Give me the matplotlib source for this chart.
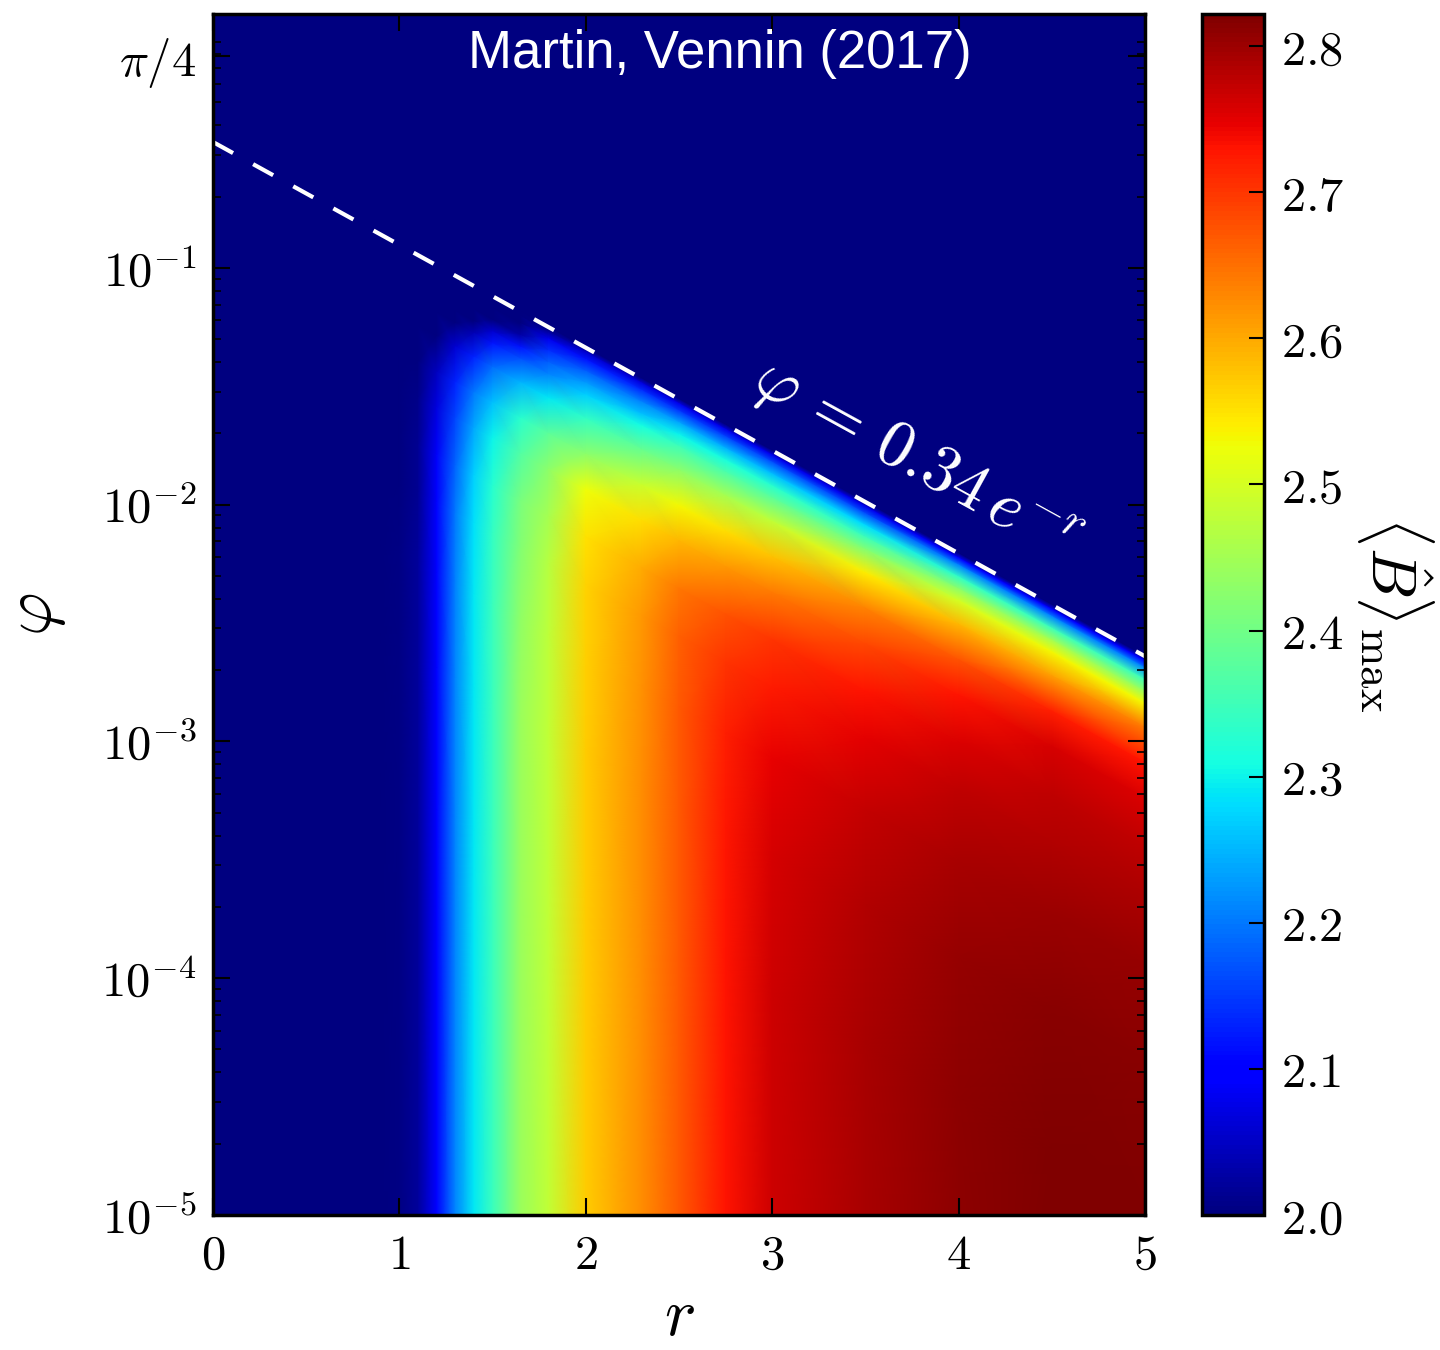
import numpy as np
import matplotlib
matplotlib.use("Agg")
import matplotlib.pyplot as plt
from matplotlib.ticker import LogLocator, NullFormatter

plt.rcParams['mathtext.fontset'] = 'cm'
plt.rcParams['font.family'] = 'serif'
plt.rcParams['font.serif'] = ['DejaVu Serif']

# dashed line phi = 0.34 e^{-r}, end points
dash_r = [0.0, 5.0]
dash_phi = [0.34, 0.00229]

# squeezing parameter r (columns of the table)
r_nodes = [0.0, 0.9, 1.0, 1.1, 1.2, 1.3, 1.4, 1.5, 1.65, 1.8,
           2.0, 2.3, 2.5, 2.75, 3.0, 3.5, 4.0, 4.5, 5.0]
# depth below the dashed line, in decades of phi (rows of the table)
depth = [-3, 0, 0.02, 0.05, 0.1, 0.15, 0.2, 0.3, 0.45, 0.6, 0.8, 1.0, 1.3, 1.7, 2.3, 5.0]

# <B>_max, one list per r column (values < 2 show as 2)
bell_cols = [
    [1.90, 1.95, 1.96, 1.96, 1.97, 1.97, 1.97, 1.98, 1.98, 1.98, 1.98, 1.98, 1.98, 1.98, 1.98, 1.98],
    [1.90, 1.95, 1.96, 1.96, 1.97, 1.97, 1.97, 1.98, 1.98, 1.99, 1.99, 1.99, 1.995, 1.995, 1.995, 1.995],
    [1.90, 1.95, 1.96, 1.96, 1.97, 1.97, 1.97, 1.98, 1.99, 1.995, 2.0, 2.003, 2.005, 2.005, 2.005, 2.005],
    [1.90, 1.95, 1.96, 1.96, 1.97, 1.97, 1.98, 1.99, 2.0, 2.007, 2.013, 2.016, 2.02, 2.02, 2.02, 2.02],
    [1.90, 1.90, 1.90, 1.92, 1.94, 1.95, 1.97, 1.99, 2.045, 2.07, 2.087, 2.094, 2.10, 2.10, 2.10, 2.10],
    [1.90, 1.90, 1.90, 1.92, 1.94, 1.96, 1.98, 2.06, 2.13, 2.16, 2.185, 2.20, 2.207, 2.21, 2.21, 2.21],
    [1.90, 1.90, 1.90, 1.93, 1.95, 1.98, 2.04, 2.13, 2.20, 2.24, 2.27, 2.285, 2.29, 2.29, 2.29, 2.29],
    [1.90, 1.90, 1.92, 1.94, 1.97, 2.06, 2.12, 2.19, 2.26, 2.30, 2.325, 2.34, 2.345, 2.345, 2.345, 2.345],
    [1.90, 1.90, 1.93, 1.96, 2.03, 2.12, 2.17, 2.25, 2.33, 2.37, 2.41, 2.42, 2.433, 2.44, 2.44, 2.44],
    [1.90, 1.97, 2.02, 2.08, 2.14, 2.18, 2.21, 2.29, 2.38, 2.43, 2.455, 2.47, 2.477, 2.48, 2.48, 2.48],
    [1.90, 2.0, 2.06, 2.12, 2.18, 2.23, 2.27, 2.34, 2.43, 2.525, 2.55, 2.562, 2.568, 2.57, 2.57, 2.57],
    [1.90, 2.0, 2.07, 2.14, 2.21, 2.26, 2.31, 2.39, 2.49, 2.555, 2.60, 2.615, 2.622, 2.625, 2.625, 2.625],
    [1.90, 2.0, 2.08, 2.15, 2.24, 2.30, 2.35, 2.43, 2.53, 2.59, 2.645, 2.662, 2.668, 2.67, 2.67, 2.67],
    [1.90, 2.0, 2.08, 2.16, 2.25, 2.315, 2.365, 2.455, 2.555, 2.615, 2.675, 2.70, 2.72, 2.728, 2.73, 2.73],
    [1.90, 2.0, 2.08, 2.17, 2.26, 2.33, 2.38, 2.48, 2.58, 2.64, 2.70, 2.725, 2.748, 2.76, 2.765, 2.765],
    [1.90, 2.0, 2.08, 2.17, 2.28, 2.35, 2.42, 2.54, 2.635, 2.685, 2.73, 2.75, 2.772, 2.785, 2.79, 2.79],
    [1.90, 2.0, 2.10, 2.21, 2.34, 2.43, 2.50, 2.59, 2.675, 2.73, 2.757, 2.775, 2.793, 2.803, 2.81, 2.81],
    [1.90, 2.0, 2.10, 2.21, 2.35, 2.45, 2.53, 2.61, 2.72, 2.76, 2.777, 2.786, 2.80, 2.813, 2.82, 2.82],
    [1.90, 2.0, 2.10, 2.21, 2.35, 2.44, 2.53, 2.64, 2.73, 2.755, 2.775, 2.788, 2.803, 2.815, 2.822, 2.822],
]

x_ticks = [0, 1, 2, 3, 4, 5]
x_labels = [r'$0$', r'$1$', r'$2$', r'$3$', r'$4$', r'$5$']
y_ticks = [1e-5, 1e-4, 1e-3, 1e-2, 1e-1, np.pi / 4]
y_labels = [r'$10^{-5}$', r'$10^{-4}$', r'$10^{-3}$', r'$10^{-2}$', r'$10^{-1}$', r'$\pi/4$']
cb_ticks = [2.0, 2.1, 2.2, 2.3, 2.4, 2.5, 2.6, 2.7, 2.8]
cb_labels = [r'$%.1f$' % t for t in cb_ticks]

fig = plt.figure(figsize=(14.4, 13.5), dpi=100)
ax = fig.add_axes([0.1479, 0.1, 0.6472, 0.8896])
cax = fig.add_axes([0.8347, 0.1, 0.0431, 0.8896])

# mesh rows follow the dashed line, so the sharp edge sits on it
log_line = np.interp(r_nodes, dash_r, np.log10(dash_phi))
R, D = np.meshgrid(r_nodes, depth)
PHI = 10 ** (log_line[None, :] - D)
B = np.array(bell_cols).T

mesh = ax.pcolormesh(R, PHI, B, cmap='jet', vmin=2.0, vmax=2.822, shading='gouraud')
ax.plot(dash_r, dash_phi, color='white', lw=3, ls=(0, (5.5, 5.5)))

ax.set_yscale('log')
ax.set_xlim(0, 5)
ax.set_ylim(1e-5, 1.18)

ax.set_xticks(x_ticks)
ax.set_xticklabels(x_labels)
ax.set_yticks(y_ticks)
ax.set_yticklabels(y_labels)
ax.yaxis.set_minor_locator(LogLocator(base=10, subs=np.arange(2, 10) * 1.0, numticks=20))
ax.yaxis.set_minor_formatter(NullFormatter())
ax.tick_params(which='both', direction='in', top=True, right=True)
ax.tick_params(which='major', length=12, width=1.5, labelsize=35, pad=12)
ax.tick_params(which='minor', length=6, width=1.2)
for s in ax.spines.values():
    s.set_linewidth(2.5)

ax.set_xlabel(r'$r$', fontsize=48, labelpad=4)
ax.set_ylabel(r'$\varphi$', fontsize=48, labelpad=24)

ax.text(3.766, 0.01517, r'$\varphi\, =\, 0.34\,e^{-r}$', rotation=-28.8, rotation_mode='anchor',
        color='white', fontsize=48, ha='center', va='center')
ax.text(0.5435, 0.955, 'Martin, Vennin (2017)', transform=ax.transAxes, color='white',
        fontsize=38, family='Liberation Sans', ha='center', va='baseline')

cb = fig.colorbar(mesh, cax=cax, ticks=cb_ticks)
cb.ax.set_yticklabels(cb_labels)
cb.ax.tick_params(direction='in', length=11, width=1.5, labelsize=35, pad=12)
cb.outline.set_linewidth(2.5)
cb.set_label(r'$\langle\hat{B}\rangle_{\max}$', fontsize=46, rotation=270, labelpad=66)

fig.savefig('out.png', dpi=100)
